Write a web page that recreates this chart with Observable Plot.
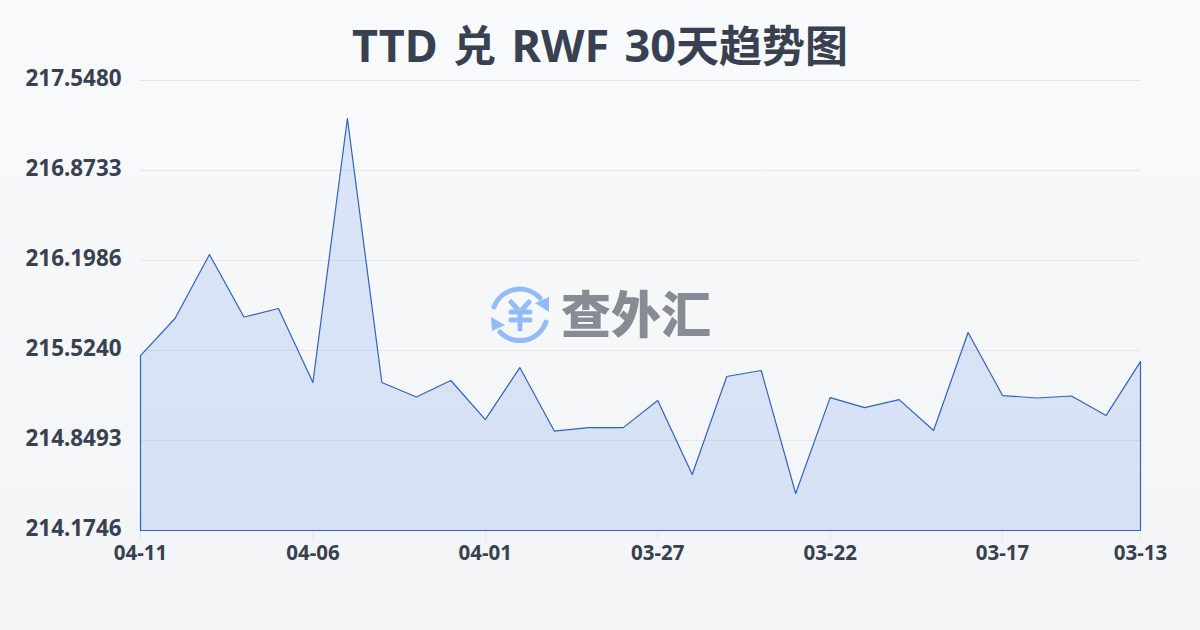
<!DOCTYPE html>
<html lang="zh">
<head>
<meta charset="utf-8">
<script src="https://cdn.jsdelivr.net/npm/d3@7"></script>
<script src="https://cdn.jsdelivr.net/npm/@observablehq/plot@0.6"></script>
<style>
  html, body { margin: 0; padding: 0; }
  body {
    width: 1200px; height: 630px; overflow: hidden; position: relative;
    background: linear-gradient(180deg, #f9fafb 0%, #f3f4f6 100%);
    font-family: "Noto Sans", "Noto Sans CJK SC", sans-serif;
  }
  #title {
    position: absolute; left: 0; top: 12px; width: 1200px; text-align: center;
    font-size: 45px; font-weight: 700; color: #374151; margin: 0;
    height: 58px; line-height: 66px; word-spacing: 3.7px; white-space: nowrap;
  }
  #title span { font-size: 43px; }
  #logo { position: absolute; left: 0; top: 0; }
  #chart { position: absolute; left: 0; top: 50px; }
</style>
</head>
<body>
<h1 id="title">TTD <span>兑</span> RWF 30<span>天趋势图</span></h1>
<svg id="logo" width="1200" height="630" aria-label="查外汇">
  <g fill="none" stroke="#93bbf8" stroke-width="5" stroke-linecap="round" stroke-linejoin="round">
    <path d="M494 307 A27.5 27.5 0 0 1 540 298"/>
    <path d="M546 322 A27.5 27.5 0 0 1 500 332"/>
    <path d="M511 302 L520 312 L529 302 M511 312 H530 M511 320 H530 M520 312 V329"/>
  </g>
  <g fill="#93bbf8">
    <polygon points="549,297 549,312 535,303"/>
    <polygon points="491,317 505,325 492,331"/>
  </g>
  <text x="636" y="333" text-anchor="middle" font-size="50" font-weight="900"
        font-family="'Noto Sans CJK SC'" fill="#878c94">查外汇</text>
</svg>
<div id="chart"></div>
<script>
const dates = ["04-11","04-10","04-09","04-08","04-07","04-06","04-05","04-04","04-03","04-02",
               "04-01","03-31","03-30","03-29","03-28","03-27","03-26","03-25","03-24","03-23",
               "03-22","03-21","03-20","03-19","03-18","03-17","03-16","03-15","03-14","03-13"];
const rates = [215.486,215.764,216.243,215.775,215.839,215.284,217.263,215.284,215.175,215.299,
               215.006,215.396,214.920,214.946,214.946,215.149,214.594,215.329,215.374,214.452,
               215.171,215.096,215.156,214.924,215.659,215.186,215.168,215.183,215.036,215.441];
const xTicks = ["04-11","04-06","04-01","03-27","03-22","03-17","03-13"];
const yTicks = [214.1746,214.8493,215.5240,216.1986,216.8733,217.5480];
const table = dates.map((d, i) => ({date: d, rate: rates[i]}));

const plot = Plot.plot({
  width: 1200, height: 580,
  marginTop: 30, marginBottom: 100, marginLeft: 140, marginRight: 60,
  style: {background: "transparent", fontFamily: '"Noto Sans", "Noto Sans CJK SC", sans-serif'},
  x: {type: "point", domain: dates, padding: 0, round: false},
  y: {domain: [214.1746, 217.5480]},
  marks: [
    Plot.ruleY(yTicks.slice(1), {stroke: "#e5e7eb", strokeWidth: 1}),
    Plot.axisX({ticks: xTicks, tickSize: 11, tickPadding: 4, stroke: "#e5e7eb", fill: "#374151", label: null,
      fontSize: 20.5, fontWeight: 700}),
    Plot.axisY({ticks: yTicks, tickFormat: d => d.toFixed(4), tickSize: 0, tickPadding: 19, dy: -2, fill: "#374151", label: null,
      fontSize: 22.4, fontWeight: 700}),
    Plot.areaY(table, {x: "date", y1: 214.1746, y2: "rate", fill: "#2f6fe8", fillOpacity: 0.15, stroke: "#2f62c8", strokeWidth: 1.2, dx: 0.5, dy: 0.5})
  ]
});
document.getElementById("chart").appendChild(plot);
</script>
</body>
</html>
